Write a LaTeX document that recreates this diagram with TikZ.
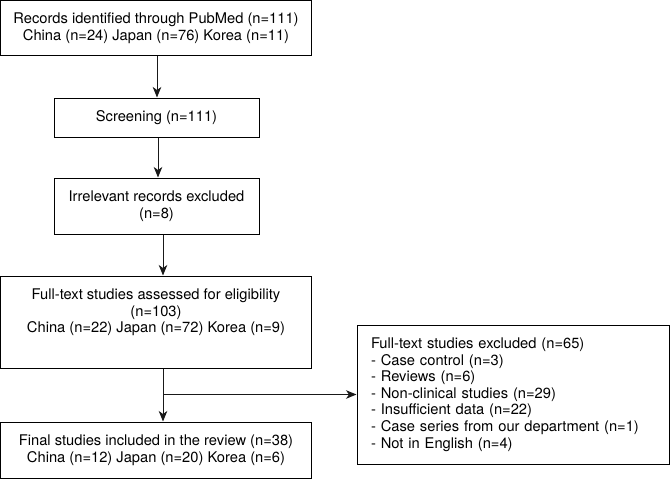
\documentclass[tikz,border=0pt]{standalone}
\usepackage{fontspec}
\setmainfont{TeX Gyre Heros}
\usetikzlibrary{arrows.meta,calc}
\begin{document}
\begin{tikzpicture}[x=1pt,y=-1pt,
  box/.style={draw=black,line width=1pt,inner sep=0pt,align=center,
    font=\fontsize{14.7}{16.6}\selectfont},
  txt/.style={inner sep=0pt,align=center,font=\fontsize{14.7}{16.6}\selectfont},
  arr/.style={draw=black!90,line width=1pt,-{Stealth[length=10.5pt,width=8.5pt,inset=3pt]}}]
\useasboundingbox (0,0) rectangle (670,479);
\node[box,minimum width=311pt,minimum height=55pt] (top) at (156,28)
  {Records identified through PubMed (n=111)\\China (n=24) Japan (n=76) Korea (n=11)};
\node[box,minimum width=205pt,minimum height=39pt] (scr) at (156.5,117.5) {Screening (n=111)};
\node[box,minimum width=205pt,minimum height=56pt] (irr) at (156.5,206) {Irrelevant records excluded\\(n=8)};
\node[box,minimum width=311pt,minimum height=92pt] (ft) at (156,322) {};
\node[txt] (ftt) at (156,312.5) {Full-text studies assessed for eligibility\\(n=103)\\China (n=22) Japan (n=72) Korea (n=9)};
\node[box,minimum width=311pt,minimum height=56pt] (fin) at (156,450)
  {Final studies included in the review (n=38)\\China (n=12) Japan (n=20) Korea (n=6)};
\node[box,minimum width=312pt,minimum height=139pt,text width=284pt,align=left,inner xsep=14pt] (exc) at (513,394.5)
  {Full-text studies excluded (n=65)\\- Case control (n=3)\\- Reviews (n=6)\\- Non-clinical studies (n=29)\\- Insufficient data (n=22)\\- Case series from our department (n=1)\\- Not in English (n=4)};
\coordinate (j) at (163,394.5);
\draw[arr] ([xshift=1pt]top.south) -- ([xshift=1pt]top.south |- scr.north);
\draw[arr] ([xshift=1.5pt]scr.south) -- ([xshift=1.5pt]scr.south |- irr.north);
\draw[arr] ([xshift=6.5pt]irr.south) -- ([xshift=6.5pt]irr.south |- ft.north);
\draw[arr] (ft.south -| j) -- (fin.north -| j);
\draw[arr] (j) -- (exc.west |- j);
\end{tikzpicture}
\end{document}
